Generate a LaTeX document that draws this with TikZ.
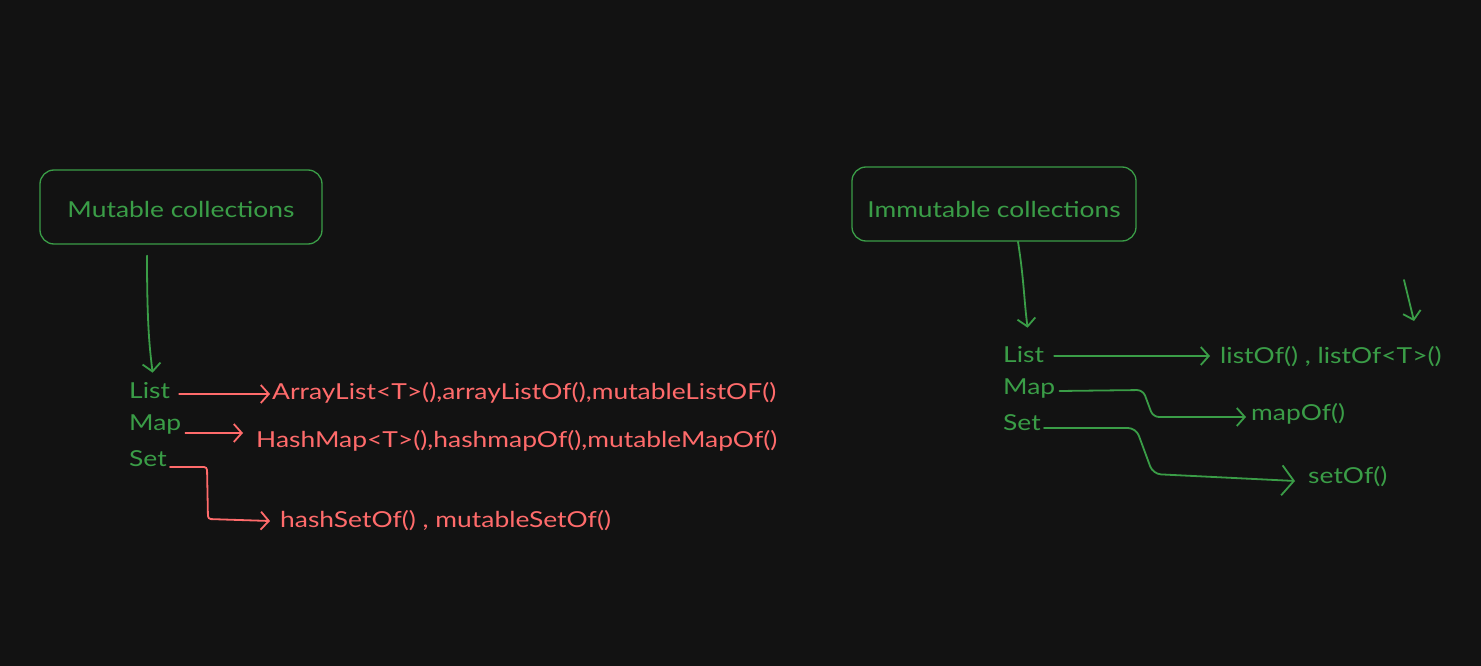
\documentclass[tikz,border=0pt]{standalone}
\usepackage{fontspec}
\setmainfont{Lato}[FakeStretch=1.2]
\usetikzlibrary{arrows.meta,calc}
\definecolor{bgcol}{HTML}{121212}
\definecolor{grn}{HTML}{3A9D47}
\definecolor{rd}{HTML}{FF6B6B}
\begin{document}
\begin{tikzpicture}[x=1pt,y=-1pt,
    box/.style={draw=grn,line width=1.3pt,rounded corners=14pt,minimum height=74pt,text=grn,font=\fontsize{22}{26}\selectfont},
    lbl/.style={anchor=west,inner sep=0pt,text=grn,font=\fontsize{22}{26}\selectfont},
    redlbl/.style={lbl,text=rd},
    arr/.style={line width=1.8pt,line cap=round,-{Straight Barb[length=8pt,width=18pt]}}]
    \fill[bgcol](0,0) rectangle (1481,666);
    \useasboundingbox (0,0) rectangle (1481,666);

    % mutable side
    \node[box,minimum width=282pt,text height=22pt,text depth=2pt] (mutbox) at (181,207) {Mutable collections};
    \node[lbl] (mlist) at (129,391) {List};
    \node[lbl] (mmap) at (129,425) {Map};
    \node[lbl] (mset) at (129,459) {Set};
    \node[redlbl] (arrlist) at (272,393) {ArrayList<T>(),arrayListOf(),mutableListOF()};
    \node[redlbl] (hashmap) at (256,441) {HashMap<T>(),hashmapOf(),mutableMapOf()};
    \node[redlbl] (hashset) at (280,521) {hashSetOf() , mutableSetOf()};

    \draw[arr,grn]($(mutbox.south)+(-34,11)$) .. controls (147,330) and (150,350) .. ($(mlist.north)+(3,-10)$);
    \draw[arr,rd]($(mlist.east)+(9,3)$) -- ($(arrlist.west)+(-2,1)$);
    \draw[arr,rd]($(mmap.east)+(4,8)$) -- ($(hashmap.west)+(-13,-8)$);
    \draw[arr,rd,rounded corners=3pt]($(mset.east)+(3,8)$) -- (207,467) -- (208,519) -- ($(hashset.west)+(-10,0)$);

    % immutable side
    \node[box,minimum width=284pt,text height=26pt,text depth=0pt] (imbox) at (994,204) {Immutable collections};
    \node[lbl] (ilist) at (1003,355) {List};
    \node[lbl] (imap) at (1003,389) {Map};
    \node[lbl] (iset) at (1003,423) {Set};
    \node[lbl] (listof) at (1220,357) {listOf() , listOf<T>()};
    \node[lbl] (mapof) at (1251,414) {mapOf()};
    \node[lbl] (setof) at (1308,477) {setOf()};

    \draw[arr,grn]($(imbox.south)+(24,0)$) .. controls (1024,280) and (1024,300) .. ($(ilist.north)+(4,-19)$);
    \coordinate (stray1) at (1404,280);
    \coordinate (stray2) at (1414,321);
    \draw[arr,grn](stray1) -- (stray2);
    \draw[arr,grn]($(ilist.east)+(10,1)$) -- ($(listof.west)+(-10,-1)$);
    \draw[arr,grn,rounded corners=6pt]($(imap.east)+(4,2)$) -- (1143,390) -- (1153,417) -- ($(mapof.west)+(-5,3)$);
    \draw[arr,grn,rounded corners=8pt,-{Straight Barb[length=12pt,width=30pt]}]($(iset.east)+(3,5)$) -- (1136,428) -- (1153,474) -- ($(setof.west)+(-13,4)$);
\end{tikzpicture}
\end{document}
